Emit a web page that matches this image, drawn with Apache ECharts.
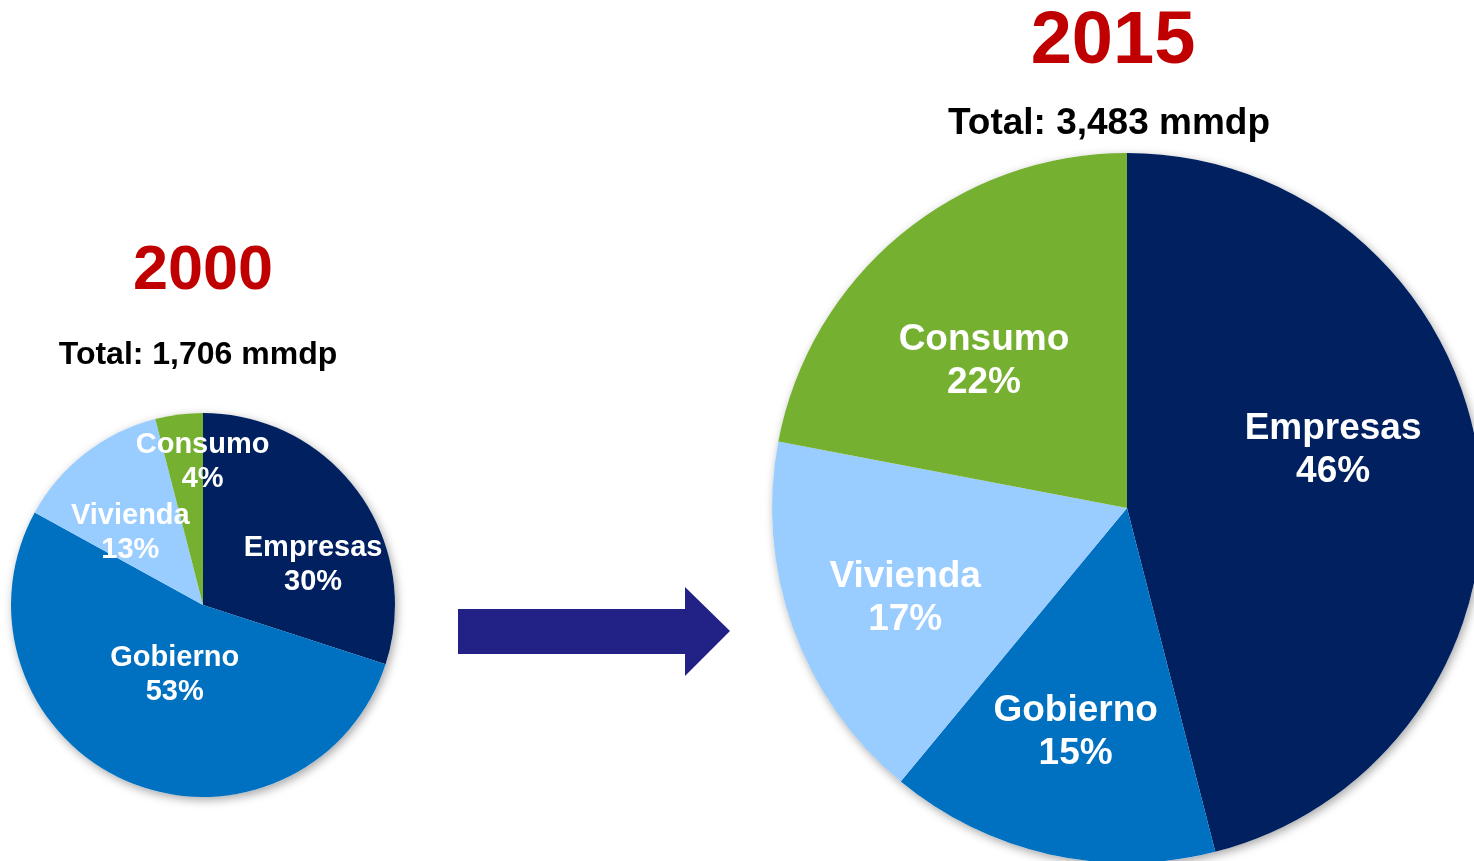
<!DOCTYPE html>
<html>
<head>
<meta charset="UTF-8">
<style>
  html, body { margin: 0; padding: 0; background: #fff; }
  #main { width: 1474px; height: 861px; }
</style>
</head>
<body>
<div id="main"></div>
<script src="https://cdn.jsdelivr.net/npm/echarts@6/dist/echarts.min.js"></script>
<script type="text/javascript">
// datos
var categorias = ['Empresas', 'Gobierno', 'Vivienda', 'Consumo'];
var valores2000 = [30, 53, 13, 4];
var valores2015 = [46, 15, 17, 22];
var anios = ['2000', '2015'];
var totales = ['Total: 1,706 mmdp', 'Total: 3,483 mmdp'];

var colores = ['#002060', '#0070c0', '#99ccff', '#76b031'];
var fuente = '"Liberation Sans", Arial, sans-serif';

// ajuste de etiquetas (como en el original de Excel)
var mover2000 = [[30, 18], [11, -21], [-12, 6], [12, -45]];
var mover2015 = [[27, -35], [-12, 48], [-52, 29], [-28, -8]];

function datos(vals) {
  return categorias.map(function (c, i) {
    return { name: c, value: vals[i], itemStyle: { color: colores[i] } };
  });
}

function sombra(centro, radio) {
  return {
    type: 'pie', center: centro, radius: radio, silent: true, z: 1,
    label: { show: false }, labelLine: { show: false },
    itemStyle: { color: '#fff', shadowBlur: 10, shadowColor: 'rgba(0,0,0,0.35)', shadowOffsetX: 2, shadowOffsetY: 3 },
    data: [1]
  };
}

function pastel(centro, radio, vals, tam, alto, mover) {
  return {
    type: 'pie', center: centro, radius: radio, z: 2,
    startAngle: 90, clockwise: true, silent: true,
    label: {
      show: true, position: 'inside', formatter: '{b}\n{d}%',
      color: '#fff', fontFamily: fuente, fontWeight: 'bold',
      fontSize: tam, lineHeight: alto
    },
    labelLine: { show: false },
    labelLayout: function (p) {
      return { dx: mover[p.dataIndex][0], dy: mover[p.dataIndex][1] };
    },
    data: datos(vals)
  };
}

var myChart = echarts.init(document.getElementById('main'), null, { renderer: 'canvas' });

var option = {
  animation: false,
  backgroundColor: '#fff',
  graphic: [
    { type: 'text', x: 203, y: 272, style: { text: anios[0], fill: '#c00000', font: 'bold 63px ' + fuente, textAlign: 'center', textVerticalAlign: 'middle' } },
    { type: 'text', x: 198, y: 355, style: { text: totales[0], fill: '#000', font: 'bold 32px ' + fuente, textAlign: 'center', textVerticalAlign: 'middle' } },
    { type: 'text', x: 1113, y: 43, style: { text: anios[1], fill: '#c00000', font: 'bold 74px ' + fuente, textAlign: 'center', textVerticalAlign: 'middle' } },
    { type: 'text', x: 1109, y: 124, style: { text: totales[1], fill: '#000', font: 'bold 37px ' + fuente, textAlign: 'center', textVerticalAlign: 'middle' } },
    // flecha
    { type: 'polygon', shape: { points: [[458, 609], [685, 609], [685, 587], [730, 631], [685, 676], [685, 654], [458, 654]] }, style: { fill: '#222286' } }
  ],
  series: [
    sombra([203, 605], 192),
    pastel([203, 605], 192, valores2000, 29, 34, mover2000),
    sombra([1127, 508], 355),
    pastel([1127, 508], 355, valores2015, 37, 43, mover2015)
  ]
};

myChart.setOption(option);
</script>
</body>
</html>
